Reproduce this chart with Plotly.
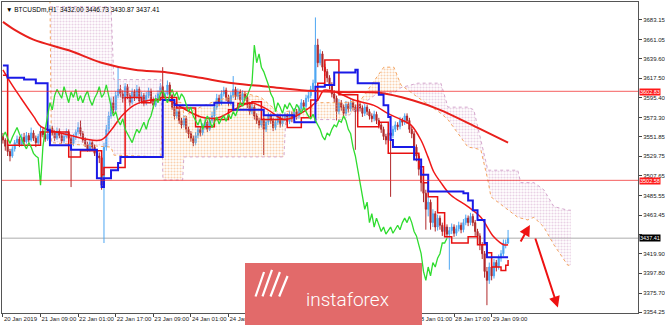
import plotly.graph_objects as go

# ---------------- data (hourly bars, index 0 = 20 Jan 2019 17:00) ----------------
first_open = 3552
close = [
3548,3541,3535,3530,3538,3545,3549,3543,3551,3546,
3553,3548,3556,3550,3545,3552,3558,3554,3549,3555,
3561,3556,3550,3558,3553,3547,3552,3557,3550,3544,
3551,3557,3562,3555,3548,3543,3538,3545,3540,3533,
3530,3528,3497,3540,3560,3575,3590,3582,3598,3605,
3600,3595,3608,3598,3590,3602,3596,3605,3592,3598,
3590,3598,3603,3593,3587,3595,3600,3608,3596,3600,
3610,3598,3585,3575,3580,3570,3565,3572,3560,3555,
3550,3545,3553,3560,3556,3563,3568,3560,3570,3575,
3585,3595,3590,3600,3604,3596,3590,3598,3605,3597,
3602,3593,3600,3596,3588,3580,3585,3575,3570,3565,
3572,3560,3568,3575,3570,3562,3568,3574,3566,3572,
3575,3569,3577,3572,3580,3575,3583,3590,3586,3595,
3598,3605,3612,3655,3635,3645,3630,3625,3618,3610,
3600,3595,3580,3590,3585,3578,3588,3583,3590,3585,
3580,3588,3584,3578,3585,3580,3575,3572,3577,3570,
3565,3560,3552,3548,3556,3553,3560,3565,3563,3570,
3568,3575,3570,3560,3555,3540,3530,3515,3500,3488,
3470,3478,3455,3465,3450,3460,3452,3445,3450,3442,
3446,3450,3443,3448,3452,3447,3455,3460,3455,3462,
3455,3445,3440,3430,3420,3400,3390,3405,3395,3410,
3405,3415,3420,3432,3432,3437.41]
high = [
3556,3550,3544,3538,3541,3548,3553,3552,3555,3556,
3557,3556,3562,3559,3553,3555,3563,3561,3557,3559,
3565,3564,3559,3562,3561,3556,3556,3561,3560,3553,
3555,3560,3568,3570,3558,3551,3546,3548,3548,3543,
3537,3534,3531,3545,3565,3580,3596,3597,3603,3630,
3610,3604,3612,3611,3601,3606,3605,3610,3608,3602,
3601,3602,3607,3606,3596,3599,3604,3612,3630,3604,
3615,3613,3600,3588,3584,3583,3573,3576,3575,3563,
3558,3553,3557,3564,3563,3567,3572,3571,3574,3580,
3590,3600,3599,3604,3608,3607,3599,3602,3620,3608,
3606,3605,3604,3603,3599,3591,3589,3588,3578,3573,
3576,3575,3572,3579,3578,3573,3572,3578,3577,3576,
3579,3578,3581,3580,3584,3583,3587,3594,3593,3599,
3603,3609,3616,3686,3662,3650,3648,3634,3628,3621,
3613,3604,3598,3594,3593,3588,3592,3591,3594,3593,
3588,3592,3591,3587,3589,3588,3583,3578,3581,3580,
3573,3568,3563,3555,3560,3559,3564,3569,3568,3574,
3573,3578,3578,3573,3563,3558,3543,3533,3518,3503,
3492,3484,3481,3470,3468,3464,3463,3455,3454,3453,
3450,3454,3453,3452,3456,3455,3459,3464,3463,3466,
3465,3458,3448,3443,3433,3423,3405,3410,3408,3414,
3413,3419,3424,3436,3436,3446.73]
low = [
3544,3536,3530,3524,3528,3535,3542,3540,3541,3543,
3544,3545,3546,3547,3540,3542,3550,3551,3546,3547,
3553,3553,3547,3548,3550,3544,3544,3550,3547,3495,
3541,3548,3554,3552,3545,3540,3535,3535,3537,3530,
3526,3522,3492,3432,3536,3556,3572,3578,3580,3595,
3596,3590,3592,3594,3586,3588,3592,3594,3589,3589,
3586,3587,3595,3590,3583,3585,3592,3598,3593,3593,
3598,3595,3582,3571,3572,3566,3561,3562,3556,3550,
3546,3541,3542,3550,3552,3553,3560,3557,3558,3567,
3572,3582,3586,3587,3597,3592,3586,3587,3595,3593,
3594,3589,3590,3592,3584,3576,3577,3571,3566,3561,
3562,3531,3557,3565,3566,3558,3559,3565,3562,3563,
3569,3565,3566,3568,3569,3571,3572,3580,3582,3583,
3591,3595,3602,3608,3630,3632,3626,3620,3613,3605,
3596,3590,3570,3577,3581,3574,3575,3579,3580,3581,
3537,3577,3580,3574,3575,3576,3571,3568,3569,3566,
3561,3556,3548,3543,3545,3484,3550,3557,3559,3560,
3564,3565,3566,3556,3550,3535,3524,3508,3490,3478,
3447,3462,3447,3450,3445,3446,3447,3440,3441,3438,
3402,3442,3439,3440,3445,3443,3444,3452,3451,3452,
3451,3440,3435,3424,3414,3393,3362,3386,3390,3392,
3400,3402,3411,3417,3426,3430.87]
assert len(close) == len(high) == len(low) == 216

# long moving average (thick red)
ma_long_h = [0, 5, 13, 28, 42, 56, 70, 84, 98, 113, 127, 144, 161, 174, 186, 198, 215]
ma_long_v = [3681, 3672, 3661, 3649, 3635, 3627, 3624, 3618, 3612, 3608, 3604, 3602, 3601, 3593, 3582, 3567, 3545]
# shorter moving average (red)
ma_mid_h = [0, 3.4, 7.7, 13.2, 16.2, 27.7, 41.7, 46, 50.2, 55.7, 63, 70.2, 74.5, 84.3, 91.5, 98.3, 105.5,
            112.8, 119.6, 126.8, 134, 136.6, 142.6, 149.4, 157.9, 163.8, 169.4, 173.6, 177.9, 180.9, 183.4,
            186.4, 190.6, 197.9, 203.4, 208.9, 213.2, 215]
ma_mid_v = [3627, 3612, 3595, 3574, 3563, 3554, 3548, 3559, 3574, 3587, 3593, 3593, 3587, 3574, 3573, 3582, 3590,
            3582, 3571, 3578, 3593, 3604, 3601, 3593, 3587, 3578, 3571, 3565, 3548, 3529, 3512,
            3500, 3486, 3473, 3461, 3439, 3430, 3430]
# Ichimoku Tenkan-sen (red) and Kijun-sen (blue)
ten_h = [0, 2, 16, 28, 33, 42, 43, 52, 59, 63, 67, 74, 82, 90, 96, 100, 106, 110, 121, 127, 131, 134, 137, 143,
         151, 160, 164, 177, 179, 181, 185, 188, 191, 198, 202, 206, 208, 212, 214, 215]
ten_v = [3621, 3542, 3557, 3529, 3536, 3509, 3517, 3596, 3590, 3593, 3596, 3584, 3563, 3571, 3582, 3589, 3591, 3571,
         3562, 3573, 3593, 3612, 3638, 3599, 3563, 3568, 3533, 3518, 3500, 3484, 3466, 3439, 3432, 3439, 3430, 3421,
         3405, 3401, 3407, 3413]
kij_h = [0, 2, 9, 14, 19, 20, 29, 40, 42, 43, 46, 49, 50, 68, 73, 90, 98, 111, 124, 133, 137, 141, 150, 151, 160,
         162, 164, 165, 166, 175, 178, 181, 196, 198, 200, 202, 205, 206, 215]
kij_v = [3632, 3618, 3616, 3612, 3559, 3542, 3537, 3505, 3495, 3505, 3514, 3522, 3529, 3593, 3587, 3590, 3582, 3576,
         3568, 3608, 3610, 3624, 3627, 3612, 3599, 3587, 3574, 3548, 3540, 3526, 3509, 3490, 3488, 3480, 3469, 3458,
         3432, 3416, 3416]
chikou_shift = 26
# Ichimoku cloud: Senkou span A and B
cloud_h = [20.0, 20.6, 46, 47.2, 67.2, 68.1, 76.5, 77, 81.3, 88.5, 95.7, 102.6, 109.8, 119.6, 120.4, 131, 134,
           145.1, 152.3, 159.6, 162.1, 166.4, 169.4, 176.6, 186.4, 189.4, 197.9, 200.4, 203.4, 206.4, 207.7,
           219.1, 220.4, 223.4, 226, 230.2, 234.5, 240.4, 241.7]
span_a = [3712, 3545, 3540, 3531, 3529, 3593, 3590, 3574, 3582, 3590, 3596, 3601, 3596, 3574, 3580, 3584, 3590,
          3590, 3593, 3621, 3630, 3630, 3610, 3596, 3578, 3571, 3540, 3539, 3537, 3503, 3484,
          3461, 3460, 3458, 3461, 3450, 3430, 3407, 3407]
span_b = [3698, 3698, 3698, 3616, 3616, 3503, 3503, 3529, 3529, 3529, 3529, 3529, 3529, 3529, 3573, 3573, 3571,
          3571, 3587, 3601, 3601, 3601, 3607, 3612, 3612, 3585, 3585, 3582, 3548, 3514, 3514,
          3514, 3500, 3500, 3500, 3492, 3473, 3469, 3469]
levels = [3602.83, 3502.58]
last_price = 3437.41
ohlc_text = "3432.00 3446.73 3430.87 3437.41"
tick_h = [0, 16, 32, 48, 64, 80, 96, 112, 128, 144, 160, 176, 192, 208]
tick_text = ["20 Jan 2019", "21 Jan 09:00", "22 Jan 01:00", "22 Jan 17:00", "23 Jan 09:00", "24 Jan 01:00",
             "24 Jan 17:00", "25 Jan 09:00", "26 Jan 01:00", "26 Jan 17:00", "27 Jan 09:00", "28 Jan 01:00",
             "28 Jan 17:00", "29 Jan 09:00"]
price_ticks = [3683.15, 3661.05, 3639.60, 3617.50, 3595.40, 3573.30, 3551.85, 3529.75, 3507.65, 3485.55,
               3463.45, 3441.35, 3419.90, 3397.80, 3375.70, 3354.25]
hidden_price_ticks = [3441.35]   # covered by the last-price label in the reference
arrow_from_h = [220.0, 226.4]
arrow_from_p = [3432.0, 3438.8]
arrow_to_h = [224.3, 236.2]
arrow_to_p = [3452.4, 3359.5]

# ---------------- figure ----------------
bars = list(range(len(close)))
opens = [first_open] + close[:-1]
ORANGE = "#f4a460"
THISTLE = "#d4a6cc"
FONT = "Liberation Sans"

fig = go.Figure()

# cloud polygons split where span A / span B cross
def cloud_polys(hs, a, b):
    polys = []
    seg_h, seg_a, seg_b = [hs[0]], [a[0]], [b[0]]
    sign = a[0] >= b[0]
    for i in range(1, len(hs)):
        s = a[i] >= b[i]
        if s != sign:
            d0 = a[i-1] - b[i-1]
            d1 = a[i] - b[i]
            t = d0 / (d0 - d1)
            xc = hs[i-1] + t * (hs[i] - hs[i-1])
            yc = a[i-1] + t * (a[i] - a[i-1])
            seg_h.append(xc); seg_a.append(yc); seg_b.append(yc)
            polys.append((sign, seg_h, seg_a, seg_b))
            seg_h, seg_a, seg_b = [xc], [yc], [yc]
            sign = s
        seg_h.append(hs[i]); seg_a.append(a[i]); seg_b.append(b[i])
    polys.append((sign, seg_h, seg_a, seg_b))
    return polys

for sign, sh, sa, sb in cloud_polys(cloud_h, span_a, span_b):
    col = ORANGE if sign else THISTLE
    fig.add_trace(go.Scatter(
        x=sh + sh[::-1], y=sa + sb[::-1], mode="lines", fill="toself",
        line=dict(width=0), fillcolor="rgba(0,0,0,0)",
        fillpattern=dict(shape=".", fgcolor=col, bgcolor="rgba(255,255,255,0)", size=3, solidity=0.4),
        hoverinfo="skip", showlegend=False))

fig.add_trace(go.Scatter(x=cloud_h, y=span_a, mode="lines", line=dict(color=ORANGE, width=1, dash="dot"),
                         showlegend=False, hoverinfo="skip"))
fig.add_trace(go.Scatter(x=cloud_h, y=span_b, mode="lines", line=dict(color=THISTLE, width=1, dash="dot"),
                         showlegend=False, hoverinfo="skip"))

fig.add_trace(go.Candlestick(
    x=bars, open=opens, high=high, low=low, close=close,
    increasing=dict(line=dict(color="#4ea6f2", width=1), fillcolor="#4ea6f2"),
    decreasing=dict(line=dict(color="#b0282a", width=1), fillcolor="#b0282a"),
    whiskerwidth=0, showlegend=False, hoverinfo="skip"))

fig.add_trace(go.Scatter(x=ma_long_h, y=ma_long_v, mode="lines", line=dict(color="#e8201c", width=2, shape="spline"),
                         showlegend=False))
fig.add_trace(go.Scatter(x=ma_mid_h, y=ma_mid_v, mode="lines", line=dict(color="#f01818", width=1.5, shape="spline"),
                         showlegend=False))
fig.add_trace(go.Scatter(x=ten_h, y=ten_v, mode="lines", line=dict(color="#e81010", width=1.5, shape="hv"),
                         showlegend=False))
fig.add_trace(go.Scatter(x=kij_h, y=kij_v, mode="lines", line=dict(color="#1a1ae6", width=2, shape="hv"),
                         showlegend=False))
fig.add_trace(go.Scatter(x=[b - chikou_shift for b in bars[chikou_shift:]], y=close[chikou_shift:], mode="lines",
                         line=dict(color="#2fdc2f", width=1.3), showlegend=False))

# horizontal levels
for lv in levels:
    fig.add_shape(type="line", xref="paper", x0=0, x1=1, y0=lv, y1=lv, yref="y",
                  line=dict(color="rgba(240,40,40,0.75)", width=1), layer="above")
fig.add_shape(type="line", xref="paper", x0=0, x1=1, y0=last_price, y1=last_price, yref="y",
              line=dict(color="#c8c8c8", width=1.5), layer="below")

# arrows
for fh, fp, th, tp in zip(arrow_from_h, arrow_from_p, arrow_to_h, arrow_to_p):
    fig.add_annotation(x=th, y=tp, ax=fh, ay=fp, xref="x", yref="y", axref="x", ayref="y", text="",
                       showarrow=True, arrowhead=2, arrowsize=1.1, arrowwidth=2, arrowcolor="#ee1111")

# price labels on axis
for lv in levels:
    fig.add_annotation(x=1, xref="paper", y=lv, yref="y", xanchor="left", yanchor="middle", xshift=1, yshift=-1,
                       text=f"{lv:.2f}", showarrow=False, bgcolor="#ff1a1a",
                       font=dict(color="white", size=5.5, family=FONT), borderpad=0)
fig.add_annotation(x=1, xref="paper", y=last_price, yref="y", xanchor="left", yanchor="middle", xshift=1,
                   text=f"{last_price:.2f}", showarrow=False, bgcolor="#000000",
                   font=dict(color="white", size=5.5, family=FONT), borderpad=0)

# title
fig.add_annotation(x=0.003, y=0.995, xref="paper", yref="paper", xanchor="left", yanchor="top",
                   text="▼ BTCUSDm,H1  " + ohlc_text, showarrow=False,
                   font=dict(size=6.5, color="#000", family=FONT))

# watermark box (annotation so that it covers the axis labels too)
fig.add_annotation(x=0.5212, y=0.0611, xref="paper", yref="paper", xanchor="center", yanchor="middle",
                   text=" ", showarrow=False, width=177, height=62, bgcolor="#e26a6a", borderpad=0, borderwidth=0)
fig.add_annotation(x=0.544, y=0.045, xref="paper", yref="paper", xanchor="center", yanchor="middle",
                   text="instaforex", showarrow=False,
                   font=dict(size=19, color="white", family="Roboto", weight=300))
# simple white logo strokes
for hx, hy, ax, ay in [(0.4120, 0.1318, -9, 26), (0.4245, 0.1383, -10, 28), (0.4370, 0.1318, -10, 26),
                       (0.4490, 0.1190, -9, 22)]:
    fig.add_annotation(x=hx, y=hy, xref="paper", yref="paper", ax=ax, ay=ay, text="", showarrow=True,
                       arrowhead=0, arrowwidth=2.2, arrowcolor="white")

fig.update_layout(
    width=665, height=325, margin=dict(l=2, r=27, t=2, b=12, autoexpand=False),
    paper_bgcolor="white", plot_bgcolor="white", showlegend=False,
    xaxis=dict(range=[-0.4, 270.3], tickmode="array", tickvals=tick_h, ticktext=tick_text, tickangle=0,
               ticks="outside", ticklen=3, tickcolor="#444", ticklabelposition="outside right",
               tickfont=dict(size=6, color="#222", family=FONT), automargin=False,
               showgrid=False, zeroline=False, showline=True, linecolor="#555", linewidth=1, mirror=True,
               rangeslider=dict(visible=False), fixedrange=True),
    yaxis=dict(range=[3353.2, 3703.4], side="right", tickmode="array", tickvals=price_ticks,
               ticktext=["" if v in hidden_price_ticks else f"{v:.2f}" for v in price_ticks],
               ticks="outside", ticklen=3, tickcolor="#444",
               tickfont=dict(size=6, color="#222", family=FONT), automargin=False,
               showgrid=False, zeroline=False, showline=True, linecolor="#555", linewidth=1, mirror=True,
               fixedrange=True),
)

fig.write_html("out.html")
